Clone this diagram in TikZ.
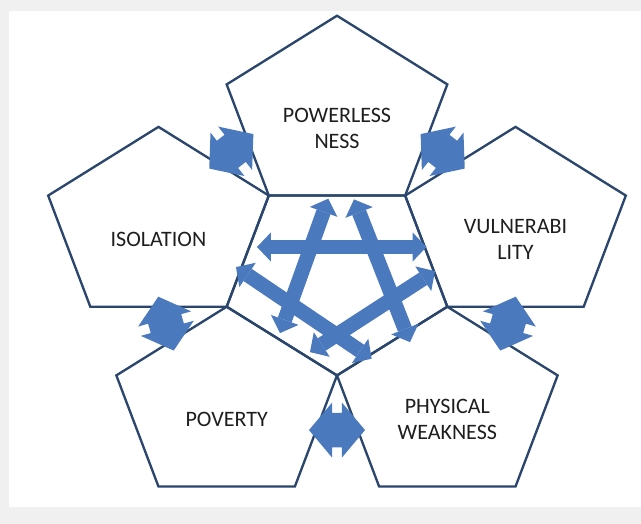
\documentclass[tikz,border=0pt]{standalone}
\usepackage{fontspec}
\setmainfont{Carlito}
\usetikzlibrary{calc,shapes.arrows,arrows.meta}
\definecolor{penline}{RGB}{42,70,108}
\definecolor{arrowfill}{RGB}{74,122,189}
\definecolor{labeltext}{RGB}{30,30,30}

\begin{document}
\begin{tikzpicture}[x=0.3mm, y=0.3mm]
    \tikzset{pent/.style={draw=penline, line width=0.7mm},
      lbl/.style={font=\fontsize{18.8}{22}\selectfont, text=labeltext, align=center, yshift=-3.9mm},
      link/.style={double arrow, fill=arrowfill, inner xsep=0pt, inner ysep=5.1mm, minimum height=16.8mm,
        minimum width=16.5mm, double arrow head extend=3.1mm, double arrow tip angle=100},
      cross/.style={draw=arrowfill, line width=4.4mm,
        {Triangle[width=8.8mm, length=4.2mm, line width=0pt]}-{Triangle[width=8.8mm, length=4.2mm, line width=0pt]}}}
  % parameters (one unit is one pixel of the original)
  \def\R{116}      % circumradius of every pentagon
  \def\D{187.7}    % distance of the outer centres, 2 R cos 36
  \def\sy{0.857}   % vertical squeeze

  % page
  \fill[black!6] (-337,-248) rectangle (304,276);
  \fill[white] (-328,-231) rectangle (304,265);
  \useasboundingbox (-337,-248) rectangle (304,276);

  \begin{scope}[yscale=\sy]
    \coordinate (o) at (0,0);
    \draw[pent] (54:\R) coordinate (v1) -- (126:\R) coordinate (v2) -- (198:\R) coordinate (v3)
      -- (270:\R) coordinate (v4) -- (342:\R) coordinate (v5) -- cycle;
    % outer pentagons, each one the mirror of the middle one
    \foreach \t/\n in {90/pow, 162/iso, 234/pov, 306/phy, 18/vul} {
      \draw[pent] ({\D*cos(\t)+\R*cos(18)}, {\D*sin(\t)+\R*sin(18)})
        \foreach \a in {90,162,234,306} { -- ({\D*cos(\t)+\R*cos(\a)}, {\D*sin(\t)+\R*sin(\a)}) } -- cycle;
      \coordinate (c-\n) at (\t:\D);
    }
  \end{scope}

  \node[lbl] (pow) at (c-pow) {POWERLESS\\NESS};
  \node[lbl] (iso) at (c-iso) {ISOLATION};
  \node[lbl] (vul) at (c-vul) {VULNERABI\\LITY};
  \node[lbl] (pov) at (c-pov) {POVERTY};
  \node[lbl] (phy) at (c-phy) {PHYSICAL\\WEAKNESS};

  % short arrows between neighbours
  \foreach \v/\r/\n in {v2/38/pow-iso, v1/-38/pow-vul, v3/106/iso-pov, v5/74/vul-phy, v4/0/pov-phy}
    \node[link, rotate=\r] (\n) at ($(o)!1.55!(\v)$) {};

  % long arrows inside the middle pentagon
  \coordinate (iso1) at (-80,29);    \coordinate (vul1) at (89.5,29);
  \coordinate (pow1) at (-8.7,77.3); \coordinate (pov1) at (-57,-57.1);
  \coordinate (pow2) at (17,76.6);   \coordinate (phy1) at (73,-66.1);
  \coordinate (iso2) at (-101,8.9);  \coordinate (phy2) at (34.7,-82.7);
  \coordinate (vul2) at (98,4.9);    \coordinate (pov2) at (-27,-76.1);
  \foreach \a/\b in {iso1/vul1, pow1/pov1, pow2/phy1, iso2/phy2, vul2/pov2}
    \draw[cross] (\a) -- (\b);
\end{tikzpicture}
\end{document}
